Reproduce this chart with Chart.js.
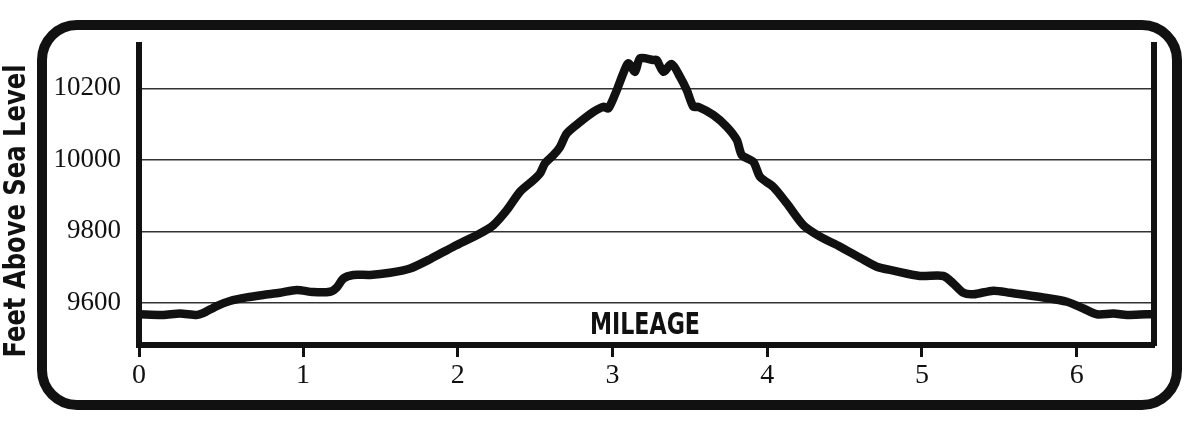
<!DOCTYPE html>
<html>
<head>
<meta charset="utf-8">
<script src="https://cdn.jsdelivr.net/npm/chart.js@4"></script>
<style>
  html, body { margin: 0; padding: 0; background: #fff; }
  #wrap { width: 1200px; height: 429px; position: relative; }
</style>
</head>
<body>
<div id="wrap"><canvas id="profile"></canvas></div>
<script>
// trail profile
const mileage = [
  -0.06, 0.095, 0.205, 0.313, 0.354, 0.442, 0.528, 0.636, 0.743, 0.851,
  0.959, 1.067, 1.175, 1.218, 1.261, 1.325, 1.433, 1.562, 1.692, 1.821,
  1.972, 2.144, 2.23, 2.317, 2.403, 2.489, 2.532, 2.564, 2.618, 2.661,
  2.705, 2.791, 2.877, 2.941, 2.974, 3.028, 3.07, 3.103, 3.146, 3.178,
  3.264, 3.286, 3.329, 3.383, 3.437, 3.48, 3.523, 3.555, 3.652, 3.739,
  3.804, 3.836, 3.911, 3.954, 4.04, 4.127, 4.234, 4.342, 4.471, 4.6,
  4.708, 4.816, 4.988, 5.139, 5.203, 5.268, 5.333, 5.462, 5.57, 5.785,
  5.937, 6.044, 6.131, 6.238, 6.325, 6.454, 6.5
];
const elevation = [
  9568, 9566, 9570, 9566, 9571, 9591, 9605, 9615, 9622, 9628,
  9636, 9630, 9631, 9643, 9668, 9678, 9678, 9684, 9696, 9722,
  9757, 9794, 9817, 9859, 9911, 9943, 9962, 9990, 10013, 10036,
  10074, 10106, 10134, 10148, 10144, 10195, 10242, 10270, 10246, 10284,
  10279, 10279, 10246, 10268, 10232, 10195, 10148, 10148, 10125, 10092,
  10055, 10013, 9994, 9952, 9924, 9878, 9817, 9785, 9757, 9726,
  9701, 9690, 9675, 9675, 9654, 9628, 9624, 9634, 9628, 9615,
  9603, 9584, 9568, 9570, 9566, 9568, 9568
];
const yTicks = [9600, 9800, 10000, 10200];
const xTicks = [0, 1, 2, 3, 4, 5, 6];
const yTitle = 'Feet Above Sea Level';
const xTitle = 'MILEAGE';

const xMin = -0.06, xMax = 6.5;
const yMin = 9482, yMax = 10321;

const ink = '#111';
const narrow = "'Liberation Sans Narrow', 'DejaVu Sans Condensed', sans-serif";
const serif = "'Liberation Serif', serif";

// fit a bold condensed label into a given width
function squeezeText(ctx, text, size, width) {
  ctx.font = 'bold ' + size + 'px ' + narrow;
  const w = ctx.measureText(text).width;
  ctx.scale(width / w, 1);
  ctx.fillText(text, 0, 0);
}

const framePlugin = {
  id: 'frame',
  afterDraw(chart) {
    const ctx = chart.ctx;
    const x = chart.scales.x, y = chart.scales.y;
    ctx.save();
    ctx.strokeStyle = ink;
    ctx.lineWidth = 10;
    ctx.beginPath();
    ctx.roundRect(42, 25, 1135, 380, 35);
    ctx.stroke();

    ctx.fillStyle = ink;
    ctx.textAlign = 'center';
    ctx.textBaseline = 'alphabetic';

    ctx.save();
    ctx.translate(25, 211);
    ctx.rotate(-Math.PI / 2);
    squeezeText(ctx, yTitle, 30, 293);
    ctx.restore();

    ctx.save();
    ctx.translate(x.getPixelForValue(3.21), y.getPixelForValue(9512));
    squeezeText(ctx, xTitle, 31, 110);
    ctx.restore();
    ctx.restore();
  }
};

const ctx = document.getElementById('profile');
new Chart(ctx, {
  type: 'line',
  data: {
    datasets: [{
      data: mileage.map((m, i) => ({ x: m, y: elevation[i] })),
      borderColor: ink,
      borderWidth: 8.5,
      borderJoinStyle: 'round',
      borderCapStyle: 'round',
      pointRadius: 0,
      tension: 0.25,
      fill: false
    }]
  },
  options: {
    responsive: true,
    maintainAspectRatio: false,
    animation: false,
    layout: { padding: { top: 45, left: 0, right: 0, bottom: 0 } },
    plugins: {
      legend: { display: false },
      tooltip: { enabled: false }
    },
    scales: {
      x: {
        type: 'linear',
        min: xMin,
        max: xMax,
        afterBuildTicks: (s) => {
          s.ticks = xTicks.map(v => ({ value: v === 0 ? xMin : v }));
        },
        afterFit: (s) => { s.height = 84; },
        grid: {
          drawOnChartArea: false,
          drawTicks: true,
          tickLength: 12,
          tickWidth: 3,
          tickColor: ink
        },
        border: { display: true, color: ink, width: 6 },
        ticks: {
          padding: 2,
          color: ink,
          font: { family: serif, size: 28 },
          callback: (v) => (v < 0 ? '0' : String(v))
        }
      },
      y: {
        min: yMin,
        max: yMax,
        afterBuildTicks: (s) => {
          s.ticks = yTicks.map(v => ({ value: v }));
        },
        afterFit: (s) => { s.width = 139; },
        grid: {
          color: '#333',
          lineWidth: 1.5,
          drawTicks: false
        },
        border: { display: true, color: ink, width: 6 },
        ticks: {
          padding: 18,
          color: ink,
          font: { family: serif, size: 27 },
          callback: (v) => String(v)
        }
      },
      yRight: {
        position: 'right',
        min: 0,
        max: 1,
        afterFit: (s) => { s.width = 46; },
        grid: { drawOnChartArea: false, drawTicks: false },
        border: { display: true, color: ink, width: 6 },
        ticks: { display: false }
      }
    }
  },
  plugins: [framePlugin]
});
</script>
</body>
</html>
